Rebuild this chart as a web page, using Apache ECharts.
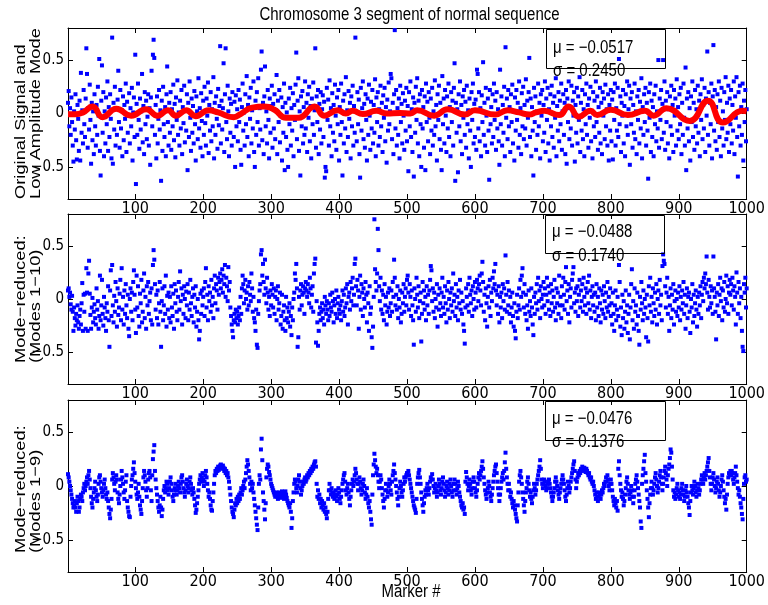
<!DOCTYPE html>
<html>
<head>
<meta charset="utf-8">
<script src="https://cdn.jsdelivr.net/npm/echarts@6/dist/echarts.min.js"></script>
<style>html,body{margin:0;padding:0;background:#fff;}#c{width:768px;height:605px;}</style>
</head>
<body>
<div id="c"></div>
<script>
// ---------- data ----------
const chartTitle = 'Chromosome 3 segment of normal sequence';
const xAxisName = 'Marker #';
const xTickValues = [100, 200, 300, 400, 500, 600, 700, 800, 900, 1000];
const yTickValues = [-0.5, 0, 0.5];
const panelLabels = [['Original Signal and', 'Low Amplitude Mode'], ['Mode\u2212reduced:', '(Modes 1\u221210)'], ['Mode\u2212reduced:', '(Modes 1\u22129)']];
const panelStats = [['\u03bc = \u22120.0517', '\u03c3 = 0.2450'], ['\u03bc = \u22120.0488', '\u03c3 = 0.1740'], ['\u03bc = \u22120.0476', '\u03c3 = 0.1376']];

// Panel 1: original signal (markers 1..1000)
const originalSignal = [
.10,.21,-.12,.05,-.20,.15,-.08,-.30,-.45,.02,-.15,.18,-.25,-.43,.08,-.05,-.35,.12,-.44,.38,-.18,.03,-.28,.22,-.10,
-.22,.14,.61,.37,-.32,.05,-.15,.27,-.06,-.47,.10,-.25,.02,-.38,.18,-.12,-.30,.08,-.20,.25,-.02,.51,-.35,-.58,.12,
.45,-.18,.20,-.40,.02,-.28,.15,-.10,.30,-.35,.06,-.22,.18,-.05,-.42,.71,-.47,.10,-.15,.25,-.30,.04,-.20,.13,.40,
-.08,-.32,.22,-.14,.03,-.40,.16,-.25,.08,-.05,.28,-.36,.11,-.18,-.02,.19,-.28,.05,-.12,.24,-.44,.01,.15,-.22,.55,
-.66,.09,-.20,.28,-.06,-.33,.14,-.15,.02,.37,-.27,.07,-.38,.20,-.10,.12,-.24,-.03,.18,-.30,.05,-.48,.15,.40,-.12,
.55,.69,.52,-.20,.08,-.42,.16,-.28,-.05,.22,-.15,.03,-.63,.12,-.35,.25,-.10,-.22,.06,-.40,.18,.44,-.08,-.30,.10,
-.18,.20,-.34,.04,-.12,.27,-.25,.09,-.41,.15,-.06,.31,-.20,.01,-.30,.12,-.14,.22,-.38,.06,-.09,.26,-.27,.03,-.16,
.18,-.53,.10,-.22,.30,-.04,-.35,.14,-.18,.07,-.28,.21,-.10,-.44,.16,.02,-.24,.33,-.14,.05,-.32,.19,-.07,-.40,.12,
-.20,.25,-.09,-.30,.14,-.02,.29,-.37,.08,-.16,.20,-.26,.04,-.12,.34,-.42,.10,-.20,.16,-.05,-.33,.23,-.11,.07,.63,
-.28,.12,-.15,.05,.47,-.36,.18,.61,-.08,-.24,.26,.02,-.40,.14,-.18,.09,-.30,.20,-.03,-.22,.11,-.50,.17,-.12,.04,
-.26,.22,-.08,.13,-.34,-.48,.06,.28,-.16,.01,-.30,.18,-.10,.35,-.22,.08,-.40,.15,-.05,.24,-.28,.03,-.14,.30,-.36,
-.50,.12,-.20,.20,-.08,.33,-.30,.05,-.15,.41,.58,-.25,.10,-.38,.16,.44,-.12,.02,-.28,.22,-.06,-.42,.14,-.18,.07,
.26,-.32,.09,-.14,.18,-.24,.03,.36,-.38,.12,-.08,.22,-.27,-.02,.15,-.44,.06,-.18,.28,-.53,.10,-.22,.01,-.34,-.50,
.14,-.10,.24,-.30,.05,-.16,.19,-.40,.08,-.06,.27,.57,-.24,.12,.33,-.35,.02,-.58,.16,-.12,.21,-.28,.06,-.20,.30,
-.14,.10,-.36,.18,-.04,.25,-.26,.07,-.42,.14,-.10,.29,-.20,.03,.61,-.32,.16,-.08,.22,-.38,.09,-.15,.20,-.28,.04,
.17,-.22,.11,-.60,-.50,-.54,.24,-.06,.13,-.30,.31,-.12,.05,-.40,.19,-.18,.08,-.26,.27,-.02,-.34,.15,-.10,.22,-.44,
.06,-.20,.28,-.08,-.58,.12,-.28,.18,-.14,.34,-.36,.03,-.22,.21,-.05,.10,-.42,.16,-.12,.26,-.30,.07,-.18,.71,.02,
-.26,.20,-.10,.13,-.38,-.60,.24,-.16,.05,.30,-.24,.09,-.32,.18,-.06,-.44,.14,-.20,.27,-.02,-.34,.11,-.14,.22,-.28,
.08,-.18,.32,-.40,.15,-.08,.20,-.30,.04,-.22,.26,-.12,.10,-.36,.17,-.04,.24,-.26,.06,-.46,.13,-.16,.29,-.10,.02,
.37,.33,-.24,.10,-.38,.18,.78,-.14,.22,-.30,.05,-.20,.14,-.42,.26,-.08,.09,-.28,.19,-.02,-.34,.12,-.16,.24,-.26,
.07,-.54,.20,-.12,.30,-.22,.04,-.36,.15,-.59,.10,-.18,.25,-.06,.33,-.28,.12,-.40,.18,-.10,-.50,.22,-.14,.06,-.32,
.16,-.53,.28,-.08,.11,-.26,.20,-.04,-.38,.14,-.16,.24,-.30,.02,-.20,.31,-.12,.08,-.44,.18,-.06,.26,-.24,.10,-.34,
-.53,.35,-.10,.14,-.28,.22,-.02,-.36,.16,-.14,.28,-.22,.06,-.40,.20,-.08,.12,-.30,.24,.47,-.63,.10,-.18,.04,-.55,
.18,-.12,.30,-.26,.08,-.38,.16,-.04,.22,-.20,.11,-.32,.26,-.10,.03,-.42,.14,-.16,-.50,.20,-.06,.28,-.28,.09,-.22,
.13,-.34,.41,.37,-.14,.20,-.26,.05,-.40,.17,-.08,.48,-.20,.10,-.30,.24,-.02,-.36,.14,-.16,-.62,.22,-.10,.06,-.28,
.18,-.22,.28,-.06,.12,-.34,.20,-.14,.04,-.26,-.48,.41,-.10,.16,-.30,.08,-.18,.25,-.40,.62,-.04,.14,-.24,.22,-.12,
.06,-.36,.18,-.08,.27,-.28,.02,-.44,.15,-.16,.22,-.06,.10,-.32,.30,-.20,.05,-.38,.19,-.12,.25,-.24,.08,-.14,.32,
-.30,.12,-.04,.20,.52,-.22,.14,-.40,.06,-.16,-.58,.24,-.08,.16,-.34,.02,-.20,.28,-.12,.10,-.42,.18,-.02,.22,-.26,
.08,-.18,.30,-.36,.14,-.06,.24,-.28,.04,-.44,.18,-.12,.26,-.22,.10,-.32,.16,-.04,.33,-.40,.07,-.16,.20,-.26,.12,
-.10,.28,-.34,.02,.18,-.20,.10,-.38,.22,-.47,.14,-.08,.30,-.24,.05,-.14,.26,-.30,.12,-.02,.20,-.45,.08,-.18,.24,
-.28,.16,-.06,.34,-.36,.10,-.16,.22,-.24,.04,-.40,.18,-.10,.28,-.20,.08,-.32,.14,-.04,.25,-.26,.02,-.42,.20,-.12,
.12,-.22,.30,-.08,.16,-.34,.06,-.18,.24,-.28,.10,-.38,.20,-.02,.14,-.24,.27,-.12,.04,-.30,.18,-.44,.08,-.16,.22,
-.26,.13,-.43,.20,-.06,.28,-.30,.05,-.16,.24,-.22,.51,-.10,.16,-.36,.10,-.02,.22,-.28,.07,-.40,.18,-.12,.30,-.20,
.04,.26,-.48,.14,-.10,.20,-.32,.08,-.18,.28,-.24,.02,-.38,.16,-.06,.22,-.28,.11,-.14,.33,-.42,.06,-.20,.18,-.08,
.24,-.30,.10,-.16,-.61,.20,-.04,.28,-.36,.12,-.22,.06,-.40,.18,-.10,.26,-.26,.02,-.14,.50,-.32,.14,-.06,.22,-.24,
.09,.50,-.18,.30,-.34,.12,-.08,.20,-.28,.04,-.42,.16,-.12,.26,-.20,.08,-.36,.22,-.02,.14,-.30,.32,-.16,.06,-.24,
.18,-.10,.24,-.38,.10,-.20,.28,-.04,-.30,.43,-.53,.14,-.14,.20,-.26,.05,-.44,.16,-.08,.30,-.22,.10,-.34,.22,-.12,
.04,-.28,.26,-.18,.12,-.40,.18,-.06,.32,-.24,.08,-.14,.24,-.36,.14,-.02,.58,-.20,.20,-.30,.10,-.10,.28,-.42,.16,
.64,-.16,.22,-.26,.06,-.34,.18,-.08,.30,-.22,.12,-.40,.24,-.14,.02,-.30,.20,-.06,.34,-.24,.10,-.18,.26,-.36,.14,
-.10,.22,-.28,.08,-.16,.30,-.38,.16,-.04,.34,-.22,-.59,.20,-.12,.26,-.30,.06,-.20,.28,-.44,.12,-.08,.22,-.26,.04
];

// Panel 1: low amplitude mode (red curve), read at its turning points
const lowModeX = [1, 12, 23, 37, 52, 72, 94, 116, 133, 148, 160, 175, 189, 208, 222, 245, 255, 272, 290, 305, 322, 340, 364, 378, 398, 410, 420, 435, 455, 470, 490, 505, 515, 540, 560, 585, 600, 630, 648, 665, 680, 690, 702, 724, 738, 753, 770, 780, 800, 825, 850, 863, 882, 916, 943, 965, 994, 1000];
const lowModeY = [-.007, -.007, .01, .065, -.035, .045, -.02, .04, -.02, .03, -.02, .03, -.025, .03, .01, -.035, -.005, .055, .065, .035, -.04, -.04, .065, -.02, .03, 0, .025, -.005, .025, 0, .005, 0, .03, -.02, .04, -.01, .03, -.01, .03, .01, -.01, .01, .025, -.015, .065, -.03, .025, -.015, .035, -.015, .025, -.02, .05, -.07, .12, -.085, .025, .02];

// Panel 2: mode-reduced signal (modes 1-10)
const modeReduced10 = [
.08,.10,.02,.06,-.05,-.10,.03,-.12,-.30,-.08,-.18,-.25,-.14,-.20,-.06,-.22,-.28,-.16,-.10,-.24,-.04,.15,-.30,.04,-.12,
.05,-.28,.29,.06,-.30,.24,.36,.05,-.15,-.28,-.08,.01,-.22,-.12,-.05,-.18,-.24,.10,-.10,-.02,-.28,-.16,.22,-.20,-.06,
.18,-.14,-.25,.02,-.08,-.18,-.30,-.04,-.12,.12,-.20,-.45,.08,.27,-.16,.32,-.06,-.22,.03,-.12,.16,-.02,-.26,.10,-.15,
-.08,.05,.18,-.20,.29,-.10,.02,-.24,.08,-.14,.14,-.06,-.18,.04,-.28,-.35,.00,.10,-.12,.06,-.20,.16,.27,.04,-.10,
-.32,.22,-.08,.12,-.16,-.26,.05,-.04,.18,-.22,-.12,.08,.24,-.18,.02,-.28,.12,-.06,.16,-.14,-.02,.06,-.20,.10,-.24,
.32,.46,.37,.14,-.10,.04,-.18,.08,-.24,-.04,.16,-.12,-.45,-.02,.10,-.20,-.06,.12,-.14,.22,-.26,.03,-.10,.06,-.18,
.02,-.22,.12,-.08,-.16,.05,-.28,.14,-.04,.08,-.12,-.20,.02,.16,-.10,.26,-.02,.10,-.24,.04,-.14,.12,.00,-.18,.07,
-.06,.14,-.20,.06,-.10,.18,-.04,-.16,.02,.10,-.22,.04,-.08,.12,-.26,-.12,.00,-.20,-.38,-.30,.05,-.14,.08,-.06,.02,
.10,-.16,.16,.29,-.08,.04,-.20,.12,-.02,.06,-.12,.18,-.06,.02,-.18,.10,.22,-.04,.14,.08,-.10,.20,.04,.16,.24,
.10,.18,.28,.06,.22,.14,.32,.02,.20,.12,-.02,.30,.08,.16,-.08,-.16,-.24,-.30,-.36,-.20,-.14,-.22,-.10,-.18,-.12,
-.24,-.16,-.08,-.20,.02,-.14,.10,.22,.14,-.04,.08,.18,.00,.06,-.10,.12,-.06,.16,.04,-.02,.24,.10,-.12,.02,-.18,
-.22,-.30,-.10,-.43,-.46,-.14,-.02,.08,.14,.42,.46,.22,.33,.16,.04,.37,.10,-.04,.20,.06,-.10,.02,-.16,.08,-.06,
.14,.04,-.08,.10,-.14,.02,.08,-.20,.00,.12,-.10,-.04,.06,-.24,-.16,.04,-.28,-.12,-.06,-.20,-.30,.02,-.18,-.08,-.22,
-.12,-.04,-.26,-.16,-.34,-.08,-.20,.00,.06,.24,.18,.33,.10,-.45,-.36,.02,-.10,.08,.14,-.06,.04,.12,.06,-.14,.10,
.16,.08,.02,.14,.06,-.04,.20,.10,-.08,.04,.12,-.12,.24,.33,.38,-.41,-.02,-.22,-.44,-.30,-.14,-.08,-.20,-.12,-.04,
-.18,-.10,-.24,.02,-.06,-.14,-.02,-.10,-.20,-.04,-.16,.04,-.08,-.12,.06,-.02,-.22,-.06,.00,-.14,.08,-.18,-.04,.02,-.10,
-.14,-.06,-.20,-.02,.08,-.12,.04,-.16,-.08,.10,-.04,.14,-.24,.02,.06,-.10,.16,-.02,.10,.20,-.06,.04,.33,.38,.12,
-.06,.18,.08,-.28,.02,.22,-.10,.14,.06,-.16,.10,.00,-.08,.16,.04,-.22,.06,-.04,-.30,.12,-.14,-.08,-.36,-.46,-.26,
.02,.75,.28,.16,.08,.24,.66,.46,.12,-.02,.20,-.10,.08,-.14,.04,-.20,.14,-.06,.02,-.24,-.12,.06,-.08,.10,-.16,
-.04,.08,-.12,.16,.02,.37,.20,-.06,.04,-.10,.12,-.18,.00,-.08,.08,-.22,-.14,.06,-.04,.14,-.12,.02,.10,-.06,.18,
.22,.06,-.10,.14,.02,-.16,.08,-.06,-.20,-.43,.10,.00,-.12,.20,.04,-.08,.12,-.18,-.02,.06,-.40,-.14,.16,-.04,.08,
-.10,.02,-.20,.12,-.06,.04,-.14,.08,.18,.31,.27,-.02,.10,-.12,.06,-.18,.00,-.08,.14,-.26,.04,-.10,.10,-.04,-.16,
.06,.20,-.08,.02,-.14,.12,-.04,-.22,.08,-.10,.16,.00,-.18,.06,-.06,.10,-.12,.24,-.02,.04,-.16,.14,-.08,.02,-.20,
.08,-.04,.18,-.10,.06,-.14,-.02,-.24,-.30,-.42,-.08,.10,.02,-.06,.14,-.12,.20,.04,-.04,.08,-.16,.12,.00,-.10,.16,
.06,-.08,.18,.10,-.02,.14,.22,.08,-.06,.24,.35,.16,-.12,.04,-.20,.10,-.04,-.26,.02,.12,-.08,.18,-.16,.06,-.02,
.20,.10,.26,.14,.33,.08,-.06,.04,-.14,.12,-.22,.02,-.08,.06,-.18,.14,-.02,.10,-.10,.41,.04,-.12,.16,-.06,.08,
-.14,.02,-.22,-.08,.06,-.16,-.26,-.04,-.30,-.37,-.12,.04,-.18,-.06,.10,-.10,.18,.02,.22,.29,.06,-.08,.14,-.14,.04,
-.20,-.06,-.28,.08,-.12,-.02,-.16,.10,-.08,-.24,-.34,.02,-.14,.06,-.04,.14,-.10,.20,-.02,.08,-.18,.12,.00,-.08,.04,
.16,-.06,.10,-.14,.04,.20,-.02,.12,-.10,.06,-.16,.14,-.04,.08,-.12,.02,.18,-.08,-.20,.10,-.04,.06,-.14,.22,-.06,
.02,-.18,.12,-.06,.20,.04,-.10,.16,.30,-.02,.08,-.14,.14,-.22,.02,.10,-.08,.18,.24,.30,-.04,.06,-.12,.10,-.02,
.12,-.16,.04,.18,-.08,.08,-.02,.14,-.12,.20,.02,-.06,.10,-.14,.06,.16,-.04,.22,-.10,.08,-.18,.02,.12,-.06,.04,
-.12,.06,-.20,.14,-.08,.02,-.16,.10,-.04,-.22,.08,-.10,.04,-.14,.12,-.02,-.18,.06,-.08,.16,-.12,.02,-.06,.10,-.16,
-.04,-.24,.06,-.14,-.30,-.06,.08,-.20,-.10,.02,-.16,.32,.16,-.26,-.08,-.34,.04,-.18,-.02,-.28,-.12,.08,-.22,-.06,-.32,
-.14,.04,-.38,-.08,.14,.28,-.20,-.02,-.28,.10,-.12,-.06,-.24,.06,-.16,-.30,-.43,.02,-.10,.16,-.04,-.20,.08,-.14,.00,
-.08,-.36,.04,-.18,-.40,.12,-.06,.20,-.12,.02,-.22,.10,-.04,-.16,.06,-.10,.14,-.24,.00,.08,-.14,.18,-.06,.04,-.20,
.31,.42,.36,.33,.12,-.08,.06,.20,-.14,.02,-.30,-.06,.10,-.18,.04,-.10,.14,-.24,-.02,.08,-.12,.00,-.16,.06,-.08,
.12,-.20,.02,-.10,.08,-.04,.16,-.14,.04,-.28,-.06,.10,-.18,.02,.06,-.12,-.32,.00,-.08,.14,-.22,.04,-.16,-.04,.08,
-.10,-.26,.02,-.14,.06,-.06,.12,-.18,.04,.16,-.02,.20,.10,.24,.14,.40,.06,-.10,.18,.02,-.08,.12,-.04,.08,-.14,
.40,.10,.02,-.12,-.38,.06,-.06,.14,-.16,.04,.20,-.02,.10,-.20,.08,-.08,.16,-.12,.00,.22,-.04,.12,-.14,.06,.18,
.04,.14,-.06,.20,.08,-.10,.12,.02,-.24,.25,.06,-.14,.16,-.04,.10,-.18,.02,-.30,-.45,-.49,.14,.06,.20,-.08,.10
];

// Panel 3: mode-reduced signal (modes 1-9)
const modeReduced9 = [
.11,.08,.04,.00,-.04,-.08,-.12,-.16,-.20,-.18,-.14,-.20,-.24,-.16,-.10,-.14,-.24,-.20,-.12,-.08,-.10,-.14,-.06,-.02,.02,
-.04,.00,.04,.08,.02,.10,.14,.06,-.02,-.10,-.16,-.20,-.12,-.06,-.02,.04,-.04,-.10,-.14,-.08,.02,.08,.10,.04,-.02,
-.06,-.10,-.04,.02,.06,-.02,-.08,-.12,-.06,-.14,-.20,-.26,-.30,-.22,-.12,.06,.12,.08,.02,-.04,.04,.10,.06,-.06,-.12,
-.16,-.08,.00,.06,.14,.08,.02,-.06,-.12,-.04,.04,.10,-.14,-.20,-.24,-.28,-.29,-.10,.00,.06,.10,.16,.22,.12,.04,
-.02,-.08,-.12,-.06,.02,-.10,-.18,-.22,-.26,-.14,-.02,.08,.14,.10,.04,-.04,-.10,-.02,.06,.12,.14,.08,-.04,-.14,.10,
.25,.32,.38,.14,.06,-.02,-.08,-.14,-.20,-.24,-.18,-.10,-.20,-.28,-.22,-.12,-.04,.00,-.06,-.02,.04,.02,-.04,-.08,-.02,
.04,.08,.02,-.04,-.10,-.14,-.08,-.02,.02,-.04,-.08,-.04,.00,.04,-.02,-.06,.02,.08,.10,.04,-.02,-.06,-.10,-.04,.02,
.06,.00,-.06,-.02,.04,.08,.02,-.04,-.08,-.02,-.06,-.12,-.18,-.25,-.22,-.16,-.10,-.04,.02,.06,.10,.04,.08,.12,.06,
.00,.04,.10,.14,.08,.02,-.04,-.10,-.06,-.12,-.18,-.22,-.23,-.14,-.06,.02,.10,.14,.12,.16,.14,.18,.15,.17,.19,
.20,.18,.16,.19,.17,.14,.16,.12,.14,.10,.12,.08,.04,-.02,-.08,-.14,-.20,-.24,-.26,-.29,-.22,-.16,-.18,-.12,-.16,
-.10,-.14,-.08,-.12,-.06,-.02,-.08,-.04,.00,.04,-.02,.06,.12,.18,.24,.20,.14,.08,.02,-.04,.04,-.02,.02,-.06,-.12,
-.18,-.24,-.30,-.36,-.41,-.20,.02,.10,.06,.34,.44,.24,-.06,-.14,-.22,-.31,-.16,.08,.16,.20,.18,.13,.10,.06,.02,
.00,-.02,-.04,-.06,-.08,-.10,-.08,-.06,-.10,-.12,-.08,-.06,-.09,-.11,-.08,-.05,-.07,-.10,-.12,-.08,-.05,-.08,-.11,-.14,-.16,
-.18,-.20,-.16,-.24,-.39,-.30,-.14,-.06,.02,.06,.04,-.02,-.06,.00,.06,.10,.04,-.02,-.08,-.04,.00,.04,.02,.06,.08,
.04,.06,.10,.08,.12,.10,.14,.12,.16,.14,.18,.16,.20,.22,.23,.18,.02,-.10,-.04,-.12,-.08,-.16,-.12,-.20,-.14,
-.18,-.22,-.16,-.24,-.20,-.26,-.30,-.24,-.12,-.04,.02,-.04,-.08,-.02,-.06,-.10,-.06,-.12,-.08,-.04,-.10,-.14,-.08,-.02,-.06,
-.12,-.16,-.10,-.04,.02,.06,.10,.12,.04,-.04,-.08,-.02,.02,-.06,-.12,-.18,-.10,-.04,.02,.06,.00,.04,.10,.16,.12,
.06,.02,-.04,.02,.08,.04,-.02,-.08,-.04,.02,.06,.00,-.06,-.12,-.08,-.02,-.10,-.16,-.20,-.14,-.24,-.31,-.36,-.08,.10,
.20,.30,.24,.18,.12,.16,.10,.04,-.02,.04,.10,.06,-.02,-.08,-.14,-.20,-.12,-.04,.02,-.04,-.10,-.06,.00,.06,.02,
-.04,-.08,.04,.10,.14,.20,.12,.06,.00,-.06,-.12,-.18,-.10,-.02,.04,.00,-.06,-.10,-.04,.02,.08,.04,.08,.10,.12,
.12,.14,.10,.06,.02,-.02,-.06,-.10,-.14,-.18,-.20,-.22,-.25,-.12,.02,.08,.12,.15,.08,.02,-.06,-.12,-.18,-.24,-.16,
-.10,-.04,-.08,-.02,.02,-.04,-.08,-.02,.04,.08,.06,.11,.06,.00,-.06,-.02,.02,-.04,-.10,-.06,.00,.06,.02,-.04,-.08,
-.02,.04,.08,.02,-.04,-.10,-.06,.00,.04,-.02,-.08,-.04,.02,.06,.00,-.06,-.10,-.04,.02,.06,.02,-.04,-.08,-.02,.04,
.00,-.06,-.10,-.14,-.18,-.20,-.16,-.22,-.20,-.26,.04,.13,.08,.02,-.04,.00,.06,.02,-.04,-.08,-.02,.04,.08,.04,-.02,
-.06,-.10,-.04,.02,.08,.12,.06,.10,.14,.18,.23,.16,.08,.02,-.04,-.08,-.12,-.06,-.02,.04,.00,-.06,-.10,-.14,-.08,
-.02,.04,.10,.14,.18,.20,.12,.04,-.02,-.08,-.14,-.08,-.02,.04,.08,.12,.06,.14,.22,.31,.16,.08,.02,-.04,.02,
-.04,-.10,-.06,-.12,-.16,-.20,-.14,-.18,-.22,-.26,-.30,-.33,-.18,-.06,.04,.10,.14,.08,.02,-.06,-.12,-.18,-.24,-.14,-.06,
-.02,.04,.08,.02,-.04,-.10,-.06,-.12,-.16,-.10,-.04,.02,-.02,-.08,-.04,.02,.06,.10,.14,.18,.24,.16,.06,.02,-.02,
.02,.06,.04,.00,-.04,-.02,.02,.04,.06,.02,-.02,-.06,-.10,-.14,-.10,-.06,-.02,.04,.08,.04,.00,-.04,-.08,-.12,-.06,
-.02,.02,.06,.10,.06,.02,-.04,-.10,-.14,-.08,-.02,.04,.00,-.06,-.02,.04,.08,.12,.16,.20,.23,.14,.06,-.02,.04,
.08,.12,.10,.14,.12,.16,.15,.18,.16,.14,.17,.15,.13,.16,.14,.12,.10,.12,.08,.06,.08,.04,.02,.04,.00,
-.04,-.08,-.12,-.06,-.10,-.14,-.10,-.06,-.08,-.12,-.08,-.04,-.06,-.02,.02,.00,.04,.08,.04,.10,.06,.00,-.04,.02,.06,
.02,-.04,-.10,-.14,-.18,-.12,-.16,-.20,-.14,-.23,.16,.23,.10,.02,-.04,-.10,-.06,-.12,-.18,-.14,-.08,-.02,.04,.08,.02,
-.04,-.08,-.12,-.06,.00,-.04,-.10,-.16,-.10,-.04,.02,.06,.10,.04,-.02,-.08,-.14,-.20,-.33,-.39,.02,.10,.16,.23,.29,
.12,.04,-.04,-.12,-.20,-.29,-.16,-.08,-.02,.04,-.02,-.08,-.04,.02,.08,.12,.06,.00,-.06,-.02,.04,.10,.14,.08,.02,
-.04,.02,.08,.14,.18,.12,.06,.00,.10,.16,.20,.26,.34,.31,.18,.06,-.04,-.10,-.06,-.12,-.08,-.02,.02,-.04,-.10,
-.06,-.12,-.08,-.02,.02,-.04,-.08,-.14,-.10,-.04,.00,-.06,-.10,-.16,-.20,-.27,-.14,-.06,.00,-.04,-.08,-.02,.04,.00,-.06,
-.10,-.04,.02,-.02,-.08,-.04,.02,.06,.10,.06,.02,.08,.12,.06,.10,.14,.18,.22,.26,.14,.08,.02,-.04,.02,.08,
.12,.06,.00,-.06,-.02,.04,.08,.02,-.04,-.10,-.06,.00,.06,.10,.04,-.04,-.10,-.16,-.12,-.22,-.08,.02,.08,.12,.10,
.14,.10,.14,.12,.06,.02,.08,.12,.18,.10,.04,-.02,-.08,-.04,-.10,-.16,-.20,-.26,-.31,-.12,.02,.08,.10,.04,.06
];

// ---------- chart ----------
const FONT = '"Liberation Sans", Arial, Helvetica, sans-serif';
const TICKFONT = '"Liberation Sans Narrow", "DejaVu Sans Condensed", "Liberation Sans", sans-serif';
const grids = [
  {left: 68, top: 28, width: 683, height: 171},
  {left: 68, top: 214, width: 683, height: 170},
  {left: 68, top: 400, width: 683, height: 172}
];
const series = [originalSignal, modeReduced10, modeReduced9];

const xAxes = [], yAxes = [];
grids.forEach((g, i) => {
  const lineCfg = {show: true, onZero: false, lineStyle: {color: '#000', width: 1}};
  const base = {type: 'value', gridIndex: i, min: 1, max: 1000, splitLine: {show: false}, axisLine: lineCfg};
  xAxes.push(Object.assign({}, base, {
    position: 'bottom',
    axisTick: {show: true, inside: true, length: 5, customValues: xTickValues, lineStyle: {color: '#000'}},
    axisLabel: {show: true, customValues: xTickValues, margin: 2, color: '#000', fontSize: 16, fontFamily: TICKFONT,
      formatter: v => String(v)}
  }));
  xAxes.push(Object.assign({}, base, {
    position: 'top',
    axisTick: {show: true, inside: true, length: 5, customValues: xTickValues, lineStyle: {color: '#000'}},
    axisLabel: {show: false}
  }));
  const ybase = {type: 'value', gridIndex: i, min: -0.8, max: 0.8, splitLine: {show: false}, axisLine: lineCfg};
  yAxes.push(Object.assign({}, ybase, {
    position: 'left',
    axisTick: {show: true, inside: true, length: 5, customValues: yTickValues, lineStyle: {color: '#000'}},
    axisLabel: {show: true, customValues: yTickValues, margin: 4, color: '#000', fontSize: 15, fontFamily: TICKFONT,
      formatter: v => (v < 0 ? '\u2212' + Math.abs(v) : String(v))}
  }));
  yAxes.push(Object.assign({}, ybase, {
    position: 'right',
    axisTick: {show: true, inside: true, length: 5, customValues: yTickValues, lineStyle: {color: '#000'}},
    axisLabel: {show: false}
  }));
});

const seriesList = series.map((arr, i) => ({
  type: 'scatter', xAxisIndex: i * 2, yAxisIndex: i * 2,
  data: arr.map((v, k) => [k + 1, v]),
  symbol: 'rect', symbolSize: 4, itemStyle: {color: '#0000ff', opacity: 1},
  silent: true, z: 2
}));
seriesList.push({
  type: 'line', xAxisIndex: 0, yAxisIndex: 0,
  data: lowModeX.map((x, k) => [x, lowModeY[k]]),
  smooth: 0.5, showSymbol: false, symbol: 'none',
  lineStyle: {color: '#ff0000', width: 6}, silent: true, z: 3
});

const graphics = [];
function txt(x, y, text, opts) {
  const o = Object.assign({size: 15, align: 'center', rot: 0, sx: 1, sy: 1}, opts || {});
  graphics.push({
    type: 'text', x: x, y: y, rotation: o.rot, scaleX: o.sx, scaleY: o.sy, z: 100,
    style: {text: text, font: o.size + 'px ' + FONT, fill: '#000',
      textAlign: o.align, textVerticalAlign: 'middle', align: o.align, verticalAlign: 'middle'}
  });
}
txt(409.5, 15, chartTitle, {sy: 1.2});
txt(411, 592, xAxisName, {sy: 1.2});
const labelBottoms = [199, 363, 553];
panelLabels.forEach((lines, i) => {
  txt(21, labelBottoms[i], lines[0], {rot: Math.PI / 2, sx: 1.22, align: 'left'});
  txt(36, labelBottoms[i], lines[1], {rot: Math.PI / 2, sx: 1.22, align: 'left'});
});
const boxes = [
  {x: 546, y: 29, w: 119, h: 39, t1: 48, t2: 71},
  {x: 545, y: 215, w: 119, h: 38, t1: 232, t2: 256},
  {x: 545, y: 401, w: 120, h: 39, t1: 419, t2: 442}
];
boxes.forEach((b, i) => {
  graphics.push({type: 'rect', z: 99, shape: {x: b.x + 0.5, y: b.y + 0.5, width: b.w, height: b.h},
    style: {fill: 'none', stroke: '#000', lineWidth: 1}});
  txt(b.x + 7, b.t1, panelStats[i][0], {align: 'left', sy: 1.2});
  txt(b.x + 7, b.t2, panelStats[i][1], {align: 'left', sy: 1.2});
});

const chart = echarts.init(document.getElementById('c'), null, {renderer: 'canvas'});
chart.setOption({
  animation: false,
  backgroundColor: '#fff',
  grid: grids,
  xAxis: xAxes,
  yAxis: yAxes,
  series: seriesList,
  graphic: {elements: graphics}
});
</script>
</body>
</html>
